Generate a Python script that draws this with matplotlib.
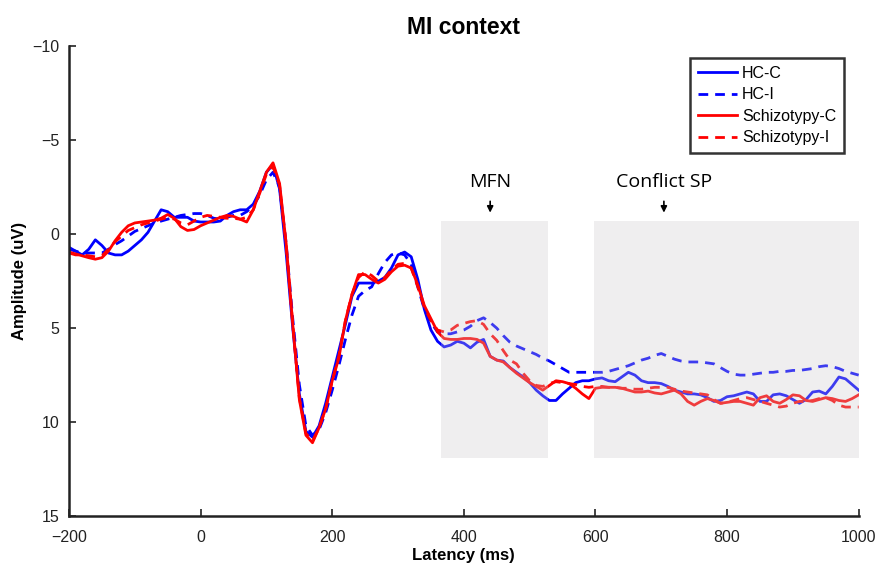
import numpy as np
import matplotlib.pyplot as plt
from matplotlib.patches import Rectangle

plt.rcParams['font.family'] = ['Liberation Sans', 'DejaVu Sans']

# latency grid in ms (10 ms steps)
latency = np.arange(-200, 1001, 10)

# amplitudes in uV
hc_c = [0.7, 0.9, 1.1, 0.8, 0.3, 0.6, 1.0, 1.1, 1.1, 0.9,
        0.6, 0.3, -0.1, -0.7, -1.3, -1.2, -0.9, -0.9, -0.9, -0.7,
        -0.65, -0.65, -0.65, -0.7, -1.0, -1.2, -1.3, -1.3, -1.6, -2.3,
        -3.3, -3.7, -2.4, 1.0, 5.0, 8.5, 10.5, 10.8, 10.2, 9.0,
        7.6, 6.2, 4.8, 3.3, 2.6, 2.6, 2.6, 2.5, 2.3, 1.8,
        1.1, 0.95, 1.2, 2.4, 4.0, 5.1, 5.7, 6.0, 5.9, 5.7,
        5.8, 6.05, 5.75, 5.6, 6.5, 6.7, 6.75, 7.1, 7.35, 7.6,
        7.9, 8.3, 8.6, 8.85, 8.85, 8.5, 8.2, 7.9, 7.8, 7.8,
        7.7, 7.65, 7.8, 7.85, 7.6, 7.35, 7.5, 7.8, 7.9, 7.9,
        7.95, 8.1, 8.3, 8.4, 8.5, 8.5, 8.55, 8.7, 8.9, 8.85,
        8.65, 8.6, 8.5, 8.4, 8.5, 8.9, 8.9, 8.55, 8.5, 8.6,
        8.8, 9.0, 8.8, 8.4, 8.35, 8.5, 8.1, 7.6, 7.7, 8.0,
        8.3]
hc_i = [0.8, 0.9, 1.0, 1.0, 1.0, 1.0, 0.8, 0.55, 0.35, 0.1,
        -0.15, -0.3, -0.45, -0.6, -0.7, -0.8, -0.9, -1.0, -1.05, -1.1,
        -1.1, -1.0, -0.85, -0.8, -0.9, -1.0, -1.0, -1.2, -1.5, -2.1,
        -2.9, -3.3, -2.5, 0.5, 4.5, 8.0, 10.2, 10.7, 10.4, 9.5,
        8.3, 7.0, 5.6, 4.3, 3.3, 3.0, 2.8, 2.1, 1.5, 1.1,
        1.0, 1.1, 1.6, 2.8, 4.0, 4.7, 5.2, 5.3, 5.3, 5.2,
        5.1, 4.9, 4.6, 4.45, 4.7, 5.0, 5.4, 5.75, 5.95, 6.1,
        6.25, 6.4, 6.6, 6.75, 6.95, 7.15, 7.35, 7.35, 7.35, 7.35,
        7.35, 7.35, 7.3, 7.2, 7.1, 7.0, 6.85, 6.7, 6.6, 6.45,
        6.35, 6.5, 6.65, 6.75, 6.8, 6.8, 6.8, 6.85, 6.9, 7.1,
        7.3, 7.45, 7.5, 7.5, 7.45, 7.4, 7.35, 7.35, 7.3, 7.3,
        7.25, 7.25, 7.2, 7.15, 7.05, 7.0, 7.05, 7.15, 7.3, 7.4,
        7.5]
sz_c = [0.95, 1.05, 1.15, 1.25, 1.33, 1.25, 0.9, 0.35, -0.1, -0.45,
        -0.6, -0.65, -0.7, -0.75, -0.85, -1.05, -0.85, -0.4, -0.2, -0.25,
        -0.45, -0.6, -0.75, -0.9, -1.0, -0.95, -0.8, -0.65, -1.3, -2.3,
        -3.3, -3.8, -2.7, 0.5, 4.8, 8.8, 10.7, 11.1, 10.3, 9.3,
        7.8, 6.6, 4.6, 3.2, 2.15, 2.15, 2.4, 2.6, 2.4, 2.0,
        1.7, 1.65, 1.8, 2.7, 3.8, 4.5, 5.2, 5.55, 5.6, 5.6,
        5.55, 5.55, 5.6, 5.8, 6.5, 6.7, 6.8, 7.1, 7.4, 7.65,
        7.9, 8.1, 8.3, 8.05, 7.8, 7.85, 7.95, 8.2, 8.5, 8.75,
        8.2, 8.15, 8.15, 8.15, 8.2, 8.3, 8.4, 8.4, 8.35, 8.45,
        8.5, 8.4, 8.3, 8.5, 8.9, 9.1, 8.9, 8.75, 8.85, 9.0,
        8.95, 8.9, 8.9, 9.0, 9.1, 8.7, 8.6, 8.9, 9.0, 8.8,
        8.55, 8.6, 8.85, 8.9, 8.8, 8.7, 8.75, 8.85, 8.9, 8.75,
        8.55]
sz_i = [1.0, 1.1, 1.1, 1.15, 1.2, 1.15, 0.8, 0.4, 0.1, -0.2,
        -0.35, -0.5, -0.6, -0.7, -0.8, -0.9, -0.8, -0.6, -0.5, -0.7,
        -0.9, -1.0, -0.95, -0.9, -0.85, -0.85, -0.8, -0.9, -1.3, -2.2,
        -3.2, -3.6, -2.6, 0.6, 4.8, 8.7, 10.6, 11.0, 10.3, 9.3,
        7.8, 6.5, 4.6, 3.2, 2.3, 2.0, 2.2, 2.5, 2.3, 1.9,
        1.6, 1.55, 1.8, 2.8, 3.9, 4.6, 5.1, 5.2, 5.1, 4.85,
        4.75, 4.65, 4.6, 4.8, 5.3, 5.65, 6.2, 6.7, 6.9, 7.4,
        7.8, 8.05, 8.1, 7.95, 7.85, 7.9, 7.95, 8.0, 8.1, 8.15,
        8.1, 8.1, 8.15, 8.15, 8.2, 8.2, 8.25, 8.25, 8.2, 8.15,
        8.15, 8.15, 8.25, 8.35, 8.4, 8.45, 8.5, 8.55, 8.8, 9.0,
        8.95, 8.85, 8.75, 8.7, 8.8, 8.9, 9.0, 9.1, 9.2, 9.15,
        9.0, 8.9, 8.9, 8.85, 8.75, 8.7, 8.85, 9.1, 9.2, 9.2,
        9.2]

# analysis windows (ms) and their vertical extent (uV)
windows = [(365, 528, "MFN", 440), (598, 1000, "Conflict SP", 704)]
win_top, win_bottom = -0.7, 11.9

fig = plt.figure(figsize=(8.78, 5.70), dpi=100)
ax = fig.add_axes([0.0786, 0.0947, 0.8994, 0.824])

ax.plot(latency, hc_c, color="#0000ff", lw=2, label="HC-C")
ax.plot(latency, hc_i, color="#0000ff", lw=2, ls=(0, (3.5, 2.5)), label="HC-I")
ax.plot(latency, sz_c, color="#ff0000", lw=2, label="Schizotypy-C")
ax.plot(latency, sz_i, color="#ff0000", lw=2, ls=(0, (3.5, 2.5)), label="Schizotypy-I")

for x0, x1, name, xa in windows:
    ax.add_patch(Rectangle((x0, win_top), x1 - x0, win_bottom - win_top,
                           facecolor="#cdc8cd", edgecolor="none", alpha=0.3, zorder=3))
    ax.annotate("", xy=(xa, win_top - 0.3), xytext=(xa, win_top - 1.2),
                arrowprops=dict(arrowstyle="-|>", color="black", lw=1.2,
                                mutation_scale=9))
    ax.text(xa, win_top - 1.6, name, ha="center", va="bottom",
            fontsize=14, family=["Open Sans", "DejaVu Sans"])

ax.set_xlim(-200, 1000)
ax.set_ylim(15, -10)
ax.set_xticks(np.arange(-200, 1001, 200))
ax.set_yticks(np.arange(-10, 16, 5))
ax.spines["top"].set_visible(False)
ax.spines["right"].set_visible(False)
for s in ("left", "bottom"):
    ax.spines[s].set_linewidth(1.8)
    ax.spines[s].set_color("#222222")
ax.tick_params(direction="in", length=5, width=1.2, labelsize=11.5, colors="#222222")
ax.tick_params(axis="x", pad=10)
ax.tick_params(axis="y", pad=7)
ax.set_xlabel("Latency (ms)", fontsize=12, fontweight="bold", labelpad=2)
ax.set_ylabel("Amplitude (uV)", fontsize=12, fontweight="bold", labelpad=4)
ax.set_title("MI context", fontsize=16.5, fontweight="bold", pad=9)

leg = ax.legend(loc="upper right", bbox_to_anchor=(0.982, 0.975), fontsize=11.5,
                frameon=True, fancybox=False, handlelength=2.5, handletextpad=0.3,
                borderpad=0.5, labelspacing=0.4, borderaxespad=0)
leg.get_frame().set_edgecolor("black")
leg.get_frame().set_linewidth(1.8)

fig.savefig("out.png", dpi=100)
